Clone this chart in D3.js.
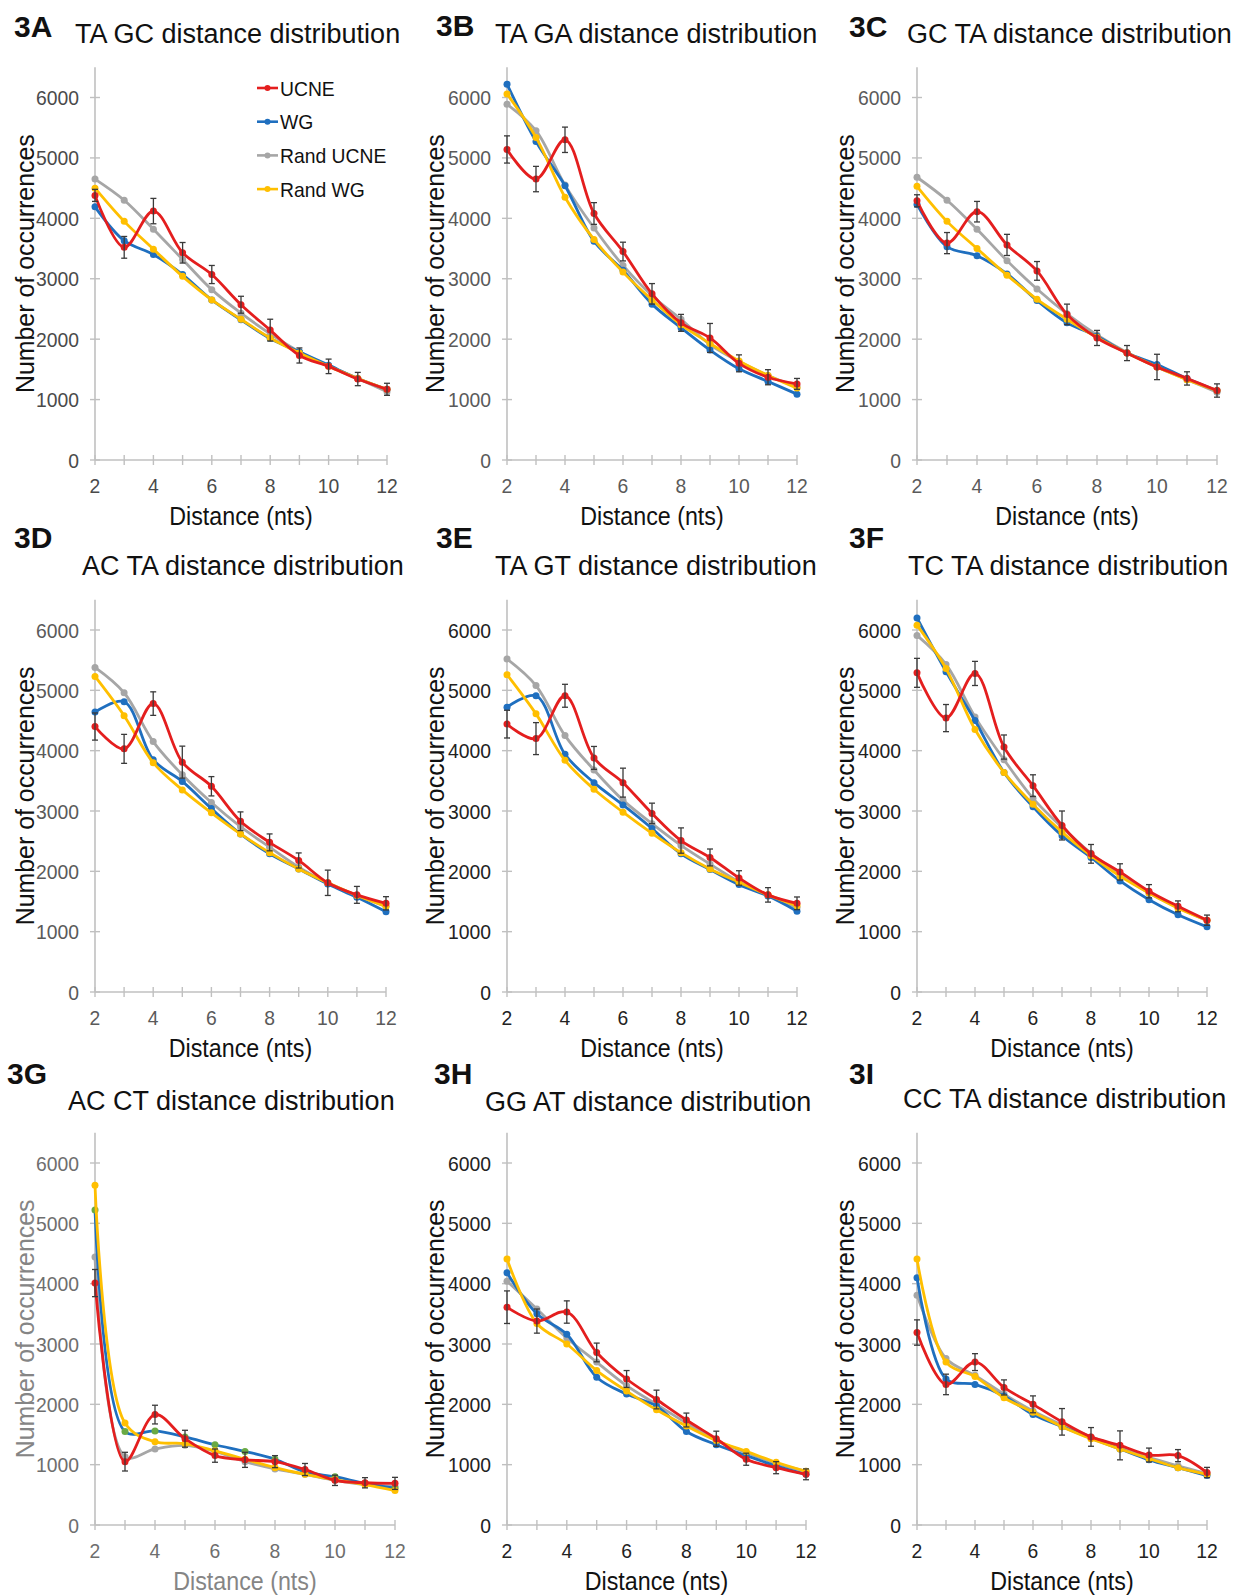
<!DOCTYPE html>
<html>
<head>
<meta charset="utf-8">
<script src="https://cdn.jsdelivr.net/npm/d3@7"></script>
<style>
  body { margin: 0; background: #fff; }
  svg { display: block; font-family: "Liberation Sans", Arial, sans-serif; }
</style>
</head>
<body>
<svg id="fig" width="1240" height="1595"></svg>
<script>
// 1: DATA
const distances = [2, 3, 4, 5, 6, 7, 8, 9, 10, 11, 12];
const seriesNames = ["UCNE", "WG", "Rand UCNE", "Rand WG"];
const panelLetters = ["3A", "3B", "3C", "3D", "3E", "3F", "3G", "3H", "3I"];
const panelTitles = [
    "TA GC distance distribution", "TA GA distance distribution", "GC TA distance distribution",
    "AC TA distance distribution", "TA GT distance distribution", "TC TA distance distribution",
    "AC CT distance distribution", "GG AT distance distribution", "CC TA distance distribution"
];
const yTicks = [0, 1000, 2000, 3000, 4000, 5000, 6000];
const xTickLabels = [2, 4, 6, 8, 10, 12];

// 3A
const ucneA    = [4380, 3520, 4120, 3430, 3070, 2570, 2150, 1730, 1550, 1340, 1170];
const errA     = [100, 180, 210, 170, 150, 140, 180, 125, 120, 110, 100];
const wgA      = [4190, 3630, 3400, 3070, 2650, 2320, 2010, 1790, 1570, 1350, 1170];
const randUcneA = [4650, 4300, 3820, 3320, 2820, 2430, 2090, 1790, 1560, 1350, 1130];
const randWgA  = [4500, 3950, 3490, 3040, 2650, 2330, 2020, 1770, 1550, 1350, 1170];
// 3B
const ucneB    = [5140, 4650, 5300, 4080, 3450, 2750, 2270, 2020, 1600, 1370, 1260];
const errB     = [225, 210, 210, 180, 155, 170, 140, 240, 140, 125, 90];
const wgB      = [6220, 5270, 4540, 3620, 3140, 2580, 2190, 1820, 1510, 1300, 1090];
const randUcneB = [5890, 5450, 4550, 3840, 3220, 2720, 2330, 1910, 1630, 1400, 1210];
const randWgB  = [6060, 5340, 4350, 3650, 3110, 2650, 2240, 1930, 1640, 1400, 1190];
// 3C
const ucneC    = [4290, 3590, 4110, 3560, 3130, 2410, 2020, 1770, 1540, 1350, 1150];
const errC     = [100, 175, 170, 175, 155, 170, 125, 125, 210, 110, 110];
const wgC      = [4230, 3530, 3380, 3080, 2640, 2270, 2050, 1770, 1580, 1350, 1150];
const randUcneC = [4680, 4300, 3820, 3300, 2830, 2420, 2070, 1780, 1540, 1330, 1120];
const randWgC  = [4530, 3950, 3500, 3060, 2660, 2330, 2030, 1770, 1540, 1330, 1150];
// 3D
const ucneD    = [4400, 4030, 4780, 3810, 3410, 2830, 2480, 2180, 1810, 1610, 1470];
const errD     = [225, 240, 195, 265, 160, 155, 140, 125, 210, 140, 110];
const wgD      = [4640, 4810, 3850, 3490, 3040, 2620, 2290, 2040, 1790, 1570, 1330];
const randUcneD = [5380, 4960, 4150, 3600, 3140, 2740, 2400, 2070, 1810, 1600, 1420];
const randWgD  = [5230, 4580, 3800, 3350, 2970, 2620, 2310, 2040, 1810, 1600, 1420];
// 3E
const ucneE    = [4440, 4200, 4910, 3880, 3470, 2960, 2510, 2230, 1890, 1610, 1470];
const errE     = [230, 265, 190, 190, 240, 170, 210, 140, 120, 120, 105];
const wgE      = [4720, 4910, 3940, 3470, 3100, 2710, 2290, 2030, 1780, 1590, 1340];
const randUcneE = [5520, 5080, 4250, 3680, 3180, 2790, 2430, 2120, 1830, 1600, 1400];
const randWgE  = [5260, 4610, 3840, 3360, 2980, 2630, 2310, 2040, 1820, 1610, 1430];
// 3F
const ucneF    = [5290, 4540, 5280, 4060, 3420, 2760, 2290, 1990, 1670, 1420, 1190];
const errF     = [240, 225, 200, 200, 180, 240, 155, 135, 110, 90, 85];
const wgF      = [6200, 5310, 4500, 3640, 3070, 2590, 2230, 1840, 1530, 1280, 1080];
const randUcneF = [5910, 5430, 4560, 3850, 3210, 2730, 2300, 1950, 1640, 1400, 1180];
const randWgF  = [6080, 5360, 4350, 3640, 3110, 2650, 2260, 1920, 1640, 1390, 1190];
// 3G
const ucneG    = [4010, 1050, 1830, 1430, 1150, 1080, 1050, 920, 740, 700, 690];
const errG     = [225, 155, 155, 140, 110, 125, 100, 100, 85, 85, 100];
const wgG      = [5220, 1550, 1560, 1460, 1330, 1220, 1090, 880, 800, 690, 610];
const randUcneG = [4440, 1130, 1260, 1320, 1220, 1050, 930, 840, 740, 670, 640];
const randWgG  = [5630, 1690, 1380, 1350, 1230, 1090, 950, 840, 750, 670, 570];
// 3H
const ucneH    = [3610, 3380, 3530, 2860, 2420, 2080, 1740, 1430, 1090, 950, 840];
const errH     = [270, 200, 185, 155, 140, 155, 115, 125, 100, 100, 90];
const wgH      = [4180, 3500, 3160, 2450, 2170, 1970, 1550, 1330, 1150, 980, 840];
const randUcneH = [4040, 3580, 3100, 2700, 2310, 2000, 1690, 1400, 1200, 1020, 890];
const randWgH  = [4410, 3340, 3000, 2560, 2220, 1910, 1640, 1400, 1220, 1040, 890];
// 3I
const ucneI    = [3190, 2330, 2700, 2280, 2000, 1710, 1460, 1320, 1160, 1150, 870];
const errI     = [210, 170, 140, 125, 140, 220, 155, 240, 115, 100, 85];
const wgI      = [4100, 2420, 2330, 2140, 1830, 1630, 1440, 1260, 1080, 950, 820];
const randUcneI = [3810, 2760, 2480, 2170, 1890, 1660, 1460, 1290, 1120, 980, 850];
const randWgI  = [4410, 2700, 2460, 2110, 1870, 1630, 1430, 1260, 1100, 950, 840];

const ucneAll = [ucneA, ucneB, ucneC, ucneD, ucneE, ucneF, ucneG, ucneH, ucneI];
const errAll = [errA, errB, errC, errD, errE, errF, errG, errH, errI];
const wgAll = [wgA, wgB, wgC, wgD, wgE, wgF, wgG, wgH, wgI];
const randUcneAll = [randUcneA, randUcneB, randUcneC, randUcneD, randUcneE, randUcneF, randUcneG, randUcneH, randUcneI];
const randWgAll = [randWgA, randWgB, randWgC, randWgD, randWgE, randWgF, randWgG, randWgH, randWgI];

// 2: LAYOUT (pixel positions of each panel)
const plotLeft  = [95, 507, 917, 95, 507, 917, 95, 507, 917];
const plotRight = [387, 797, 1217, 386, 797, 1207, 395, 806, 1207];
const plotZero  = [460, 460, 460, 992, 992, 992, 1525, 1525, 1525];
const plot6000  = [97.5, 97.5, 97.5, 630, 630, 630, 1163, 1163, 1163];
const titleX    = [75, 495, 907, 82, 495, 908, 68, 485, 903];
const titleY    = [43, 43, 43, 575, 575, 575, 1110, 1111, 1108];
const letterX   = [14, 436, 849, 14, 436, 849, 7, 434, 849];
const letterY   = [37, 36, 37, 548, 548, 548, 1084, 1084, 1084];
const yTitleX   = [25, 435, 845, 25, 435, 845, 25, 435, 845];
const tickColor = ["#4a4a4a", "#5a5a5a", "#5a5a5a", "#5a5a5a", "#222", "#222", "#6e6e6e", "#222", "#222"];
const labelColor = ["#111", "#111", "#111", "#111", "#111", "#111", "#858585", "#111", "#111"];

const colors = { "UCNE": "#e41e1e", "WG": "#1f6fbf", "Rand UCNE": "#a6a6a6", "Rand WG": "#ffbf00" };
const axisColor = "#c0c0c0";

// the original font is a little narrower than Arial, so squeeze text horizontally
function squeeze(sel, k) {
    sel.each(function() {
        const w = this.getComputedTextLength();
        d3.select(this).attr("textLength", w * k).attr("lengthAdjust", "spacingAndGlyphs");
    });
}

const svg = d3.select("#fig");

// 3: DRAW PANELS
panelLetters.forEach((letter, i) => {
    const g = svg.append("g");

    const x = d3.scaleLinear().domain([2, 12]).range([plotLeft[i], plotRight[i]]);
    const y = d3.scaleLinear().domain([0, 6000]).range([plotZero[i], plot6000[i]]);
    const yTop = y(6500);

    // axes (cross ticks, Excel style)
    g.append("line")
        .attr("x1", x(2)).attr("x2", x(2))
        .attr("y1", y(0)).attr("y2", yTop)
        .attr("stroke", axisColor).attr("stroke-width", 1.6);
    g.append("line")
        .attr("x1", x(2)).attr("x2", x(12))
        .attr("y1", y(0)).attr("y2", y(0))
        .attr("stroke", axisColor).attr("stroke-width", 1.6);

    g.selectAll(".ytick").data(yTicks).enter().append("line")
        .attr("x1", x(2) - 5).attr("x2", x(2) + 5)
        .attr("y1", d => y(d)).attr("y2", d => y(d))
        .attr("stroke", axisColor).attr("stroke-width", 1.4);
    g.selectAll(".xtick").data(distances).enter().append("line")
        .attr("x1", d => x(d)).attr("x2", d => x(d))
        .attr("y1", y(0) - 5).attr("y2", y(0) + 5)
        .attr("stroke", axisColor).attr("stroke-width", 1.4);

    const yLabs = g.selectAll(".ylab").data(yTicks).enter().append("text")
        .attr("x", x(2) - 16)
        .attr("y", d => y(d) + 7.5)
        .attr("text-anchor", "end")
        .style("font-size", "21px")
        .style("fill", tickColor[i])
        .text(d => d);
    squeeze(yLabs, 0.92);
    const xLabs = g.selectAll(".xlab").data(xTickLabels).enter().append("text")
        .attr("x", d => x(d))
        .attr("y", y(0) + 32.5)
        .attr("text-anchor", "middle")
        .style("font-size", "21px")
        .style("fill", tickColor[i])
        .text(d => d);
    squeeze(xLabs, 0.92);

    // axis titles
    const xTitle = g.append("text")
        .attr("x", (x(2) + x(12)) / 2)
        .attr("y", y(0) + 64.5)
        .attr("text-anchor", "middle")
        .style("font-size", "25px")
        .style("fill", labelColor[i])
        .text("Distance (nts)");
    squeeze(xTitle, 0.93);
    const yTitle = g.append("text")
        .attr("transform", `translate(${yTitleX[i] + 9},${(y(0) + yTop) / 2}) rotate(-90)`)
        .attr("text-anchor", "middle")
        .style("font-size", "26.5px")
        .style("fill", labelColor[i])
        .text("Number of occurrences");
    squeeze(yTitle, 0.94);

    // titles
    g.append("text")
        .attr("x", titleX[i]).attr("y", titleY[i])
        .style("font-size", "27px")
        .style("fill", "#111")
        .text(panelTitles[i]);
    g.append("text")
        .attr("x", letterX[i]).attr("y", letterY[i])
        .style("font-size", "30px")
        .style("font-weight", "bold")
        .style("fill", "#111")
        .text(letter);

    // series (red ends up on top, as in the original)
    const series = [
        { name: "Rand UCNE", values: randUcneAll[i] },
        { name: "WG", values: wgAll[i] },
        { name: "Rand WG", values: randWgAll[i] },
        { name: "UCNE", values: ucneAll[i] }
    ];

    const line = d3.line()
        .x((d, j) => x(distances[j]))
        .y(d => y(d))
        .curve(d3.curveCatmullRom.alpha(0.5));

    series.forEach(s => {
        g.append("path")
            .attr("d", line(s.values))
            .attr("fill", "none")
            .attr("stroke", colors[s.name])
            .attr("stroke-width", 2.8);
        // 3G: WG markers are green in the original
        const markerColor = (letter === "3G" && s.name === "WG") ? "#6aaa44" : colors[s.name];
        g.selectAll(null).data(s.values).enter().append("circle")
            .attr("cx", (d, j) => x(distances[j]))
            .attr("cy", d => y(d))
            .attr("r", 3.5)
            .attr("fill", markerColor);
    });

    // error bars on UCNE
    const ebColor = "#3a3a3a";
    const eb = g.selectAll(".eb").data(ucneAll[i]).enter().append("g");
    eb.append("line")
        .attr("x1", (d, j) => x(distances[j])).attr("x2", (d, j) => x(distances[j]))
        .attr("y1", (d, j) => y(d - errAll[i][j])).attr("y2", (d, j) => y(d + errAll[i][j]))
        .attr("stroke", ebColor).attr("stroke-width", 1.3);
    eb.append("line")
        .attr("x1", (d, j) => x(distances[j]) - 3).attr("x2", (d, j) => x(distances[j]) + 3)
        .attr("y1", (d, j) => y(d + errAll[i][j])).attr("y2", (d, j) => y(d + errAll[i][j]))
        .attr("stroke", ebColor).attr("stroke-width", 1.3);
    eb.append("line")
        .attr("x1", (d, j) => x(distances[j]) - 3).attr("x2", (d, j) => x(distances[j]) + 3)
        .attr("y1", (d, j) => y(d - errAll[i][j])).attr("y2", (d, j) => y(d - errAll[i][j]))
        .attr("stroke", ebColor).attr("stroke-width", 1.3);
});

// 4: LEGEND (panel 3A only)
const legend = svg.append("g").attr("transform", "translate(257,88)");
seriesNames.forEach((name, k) => {
    const row = legend.append("g").attr("transform", `translate(0,${k * 33.7})`);
    row.append("line")
        .attr("x1", 0).attr("x2", 21)
        .attr("y1", 0).attr("y2", 0)
        .attr("stroke", colors[name]).attr("stroke-width", 2.6);
    row.append("circle").attr("cx", 10.5).attr("cy", 0).attr("r", 3).attr("fill", colors[name]);
    const t = row.append("text")
        .attr("x", 23).attr("y", 7.5)
        .style("font-size", "21px")
        .style("fill", "#111")
        .text(name);
    squeeze(t, 0.92);
});
</script>
</body>
</html>
